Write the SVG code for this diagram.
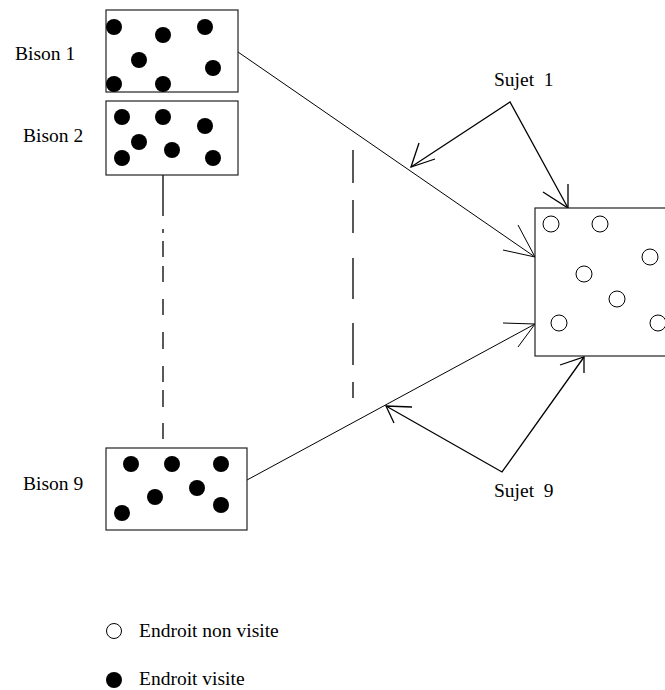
<svg xmlns="http://www.w3.org/2000/svg" width="665" height="690" viewBox="0 0 665 690">
<style>
  text { font-family: "Liberation Serif", "Times New Roman", serif; font-size: 19.5px; fill: #000; white-space: pre; }
  .box { fill: #fff; stroke: #222; stroke-width: 1.2; }
  .dot { fill: #000; }
  .odot { fill: none; stroke: #000; stroke-width: 1; }
  .ln { fill: none; stroke: #000; stroke-width: 1; }
  .arr { fill: none; stroke: #000; stroke-width: 1.3; }
</style>
<rect width="665" height="690" fill="#fff"/>

<g id="connectors">
  <path class="ln" d="M238,52 L535,257"/>
  <path class="ln" d="M518,225 L535,257 L503,250"/>
  <path class="ln" d="M247,480 L535,324"/>
  <path class="ln" d="M503,323 L535,324 L518,347"/>
  <path class="arr" d="M411,167 L510,102 L568,208"/>
  <path class="arr" d="M419,143 L411,167 L435,159"/>
  <path class="arr" d="M568,184 L568,208 L543,192"/>
  <path class="arr" d="M386,406 L502,472 L584,357"/>
  <path class="arr" d="M412,407 L386,406 L394,423"/>
  <path class="arr" d="M560,365 L584,357 L584,373"/>
  <path class="arr" d="M163,175 L163,216 M163,229 L163,233 M163,241 L163,257 M163,266 L163,282 M163,299 L163,315 M163,332 L163,349 M163,366 L163,382 M163,390 L163,407 M163,423 L163,439"/>
  <path class="arr" d="M353,150 L353,183 M353,200 L353,233 M353,258 L353,299 M353,323 L353,365 M353,382 L353,398"/>
</g>

<g id="bison1">
  <text x="15" y="59.5">Bison 1</text>
  <rect class="box" x="106" y="10" width="132" height="82"/>
  <circle class="dot" cx="114" cy="27" r="8"/>
  <circle class="dot" cx="163" cy="35" r="8"/>
  <circle class="dot" cx="205" cy="27" r="8"/>
  <circle class="dot" cx="139" cy="60" r="8"/>
  <circle class="dot" cx="213" cy="68" r="8"/>
  <circle class="dot" cx="114" cy="84" r="8"/>
  <circle class="dot" cx="163" cy="84" r="8"/>
</g>

<g id="bison2">
  <text x="23" y="141.5">Bison 2</text>
  <rect class="box" x="106" y="101" width="132" height="74"/>
  <circle class="dot" cx="122" cy="117" r="8"/>
  <circle class="dot" cx="163" cy="117" r="8"/>
  <circle class="dot" cx="205" cy="126" r="8"/>
  <circle class="dot" cx="139" cy="142" r="8"/>
  <circle class="dot" cx="172" cy="150" r="8"/>
  <circle class="dot" cx="122" cy="158" r="8"/>
  <circle class="dot" cx="213" cy="158" r="8"/>
</g>

<g id="bison9">
  <text x="23" y="489.5">Bison 9</text>
  <rect class="box" x="106" y="448" width="141" height="82"/>
  <circle class="dot" cx="131" cy="464" r="8"/>
  <circle class="dot" cx="172" cy="464" r="8"/>
  <circle class="dot" cx="221" cy="464" r="8"/>
  <circle class="dot" cx="155" cy="497" r="8"/>
  <circle class="dot" cx="197" cy="488" r="8"/>
  <circle class="dot" cx="122" cy="513" r="8"/>
  <circle class="dot" cx="221" cy="505" r="8"/>
</g>

<g id="subject">
  <rect class="box" x="535" y="208" width="140" height="148"/>
  <circle class="odot" cx="551" cy="224" r="8"/>
  <circle class="odot" cx="600" cy="224" r="8"/>
  <circle class="odot" cx="650" cy="257" r="8"/>
  <circle class="odot" cx="584" cy="274" r="8"/>
  <circle class="odot" cx="617" cy="299" r="8"/>
  <circle class="odot" cx="559" cy="323" r="8"/>
  <circle class="odot" cx="658" cy="323" r="8"/>
</g>

<g id="sujet1">
  <text x="494" y="86">Sujet  1</text>
</g>

<g id="sujet9">
  <text x="494" y="497">Sujet  9</text>
</g>

<g id="legend">
  <circle class="odot" cx="114" cy="631" r="7.5"/>
  <text x="139" y="637">Endroit non visite</text>
  <circle class="dot" cx="114" cy="680" r="8"/>
  <text x="139" y="685">Endroit visite</text>
</g>
</svg>
